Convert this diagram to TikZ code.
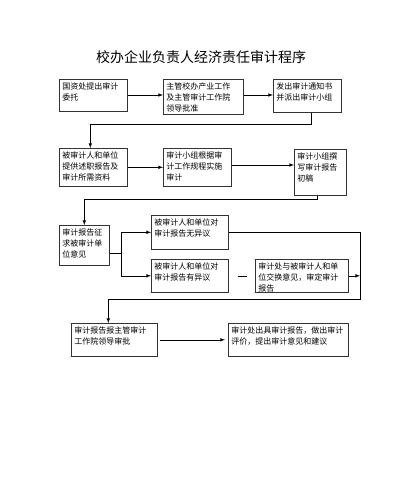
\documentclass[tikz,border=0pt]{standalone}
\usepackage{fontspec}
\newfontfamily\cnfont{Noto Sans CJK SC}
\begin{document}
\begin{tikzpicture}[
    x=1pt, y=-1pt,
    box/.style={draw=black!80, line width=0.6pt, anchor=north west, align=left,
                inner sep=3pt, text height=7pt,
                font=\cnfont\fontsize{8}{11}\selectfont},
    conn/.style={line width=0.6pt},
    arr/.style={conn, -latex}
]
\useasboundingbox (0,0) rectangle (402,500);

\node[font=\cnfont\fontsize{14}{16}\selectfont] (title) at (201,57) {校办企业负责人经济责任审计程序};

% row 1
\node[box, text width=62pt, text depth=19pt] (r1a) at (59,79)  {国资处提出审计\\委托};
\node[box, text width=74pt, text depth=22pt] (r1b) at (163,79) {主管校办产业工作\\及主管审计工作院\\领导批准};
\node[box, text width=62pt, text depth=20pt] (r1c) at (273,79) {发出审计通知书\\并派出审计小组};

% row 2
\node[box, text width=62pt, text depth=25pt] (r2a) at (59,148)  {被审计人和单位\\提供述职报告及\\审计所需资料};
\node[box, text width=62pt, text depth=25pt] (r2b) at (163,148) {审计小组根据审\\计工作规程实施\\审计};
\node[box, text width=46pt, text depth=33pt] (r2c) at (294,149) {审计小组撰\\写审计报告\\初稿};

% row 3
\node[box, text width=44pt, text depth=27pt] (r3a) at (59,225)  {审计报告征\\求被审计单\\位意见};
\node[box, text width=71pt, text depth=21pt] (r3b) at (151,215) {被审计人和单位对\\审计报告无异议};
\node[box, text width=71pt, text depth=20pt] (r3c) at (151,259) {被审计人和单位对\\审计报告有异议};
\node[box, text width=87pt, text depth=20pt] (r3d) at (255,259) {审计处与被审计人和单\\位交换意见，审定审计\\报告};

% row 4
\node[box, text width=80pt,  text depth=20pt] (r4a) at (71,323)  {审计报告报主管审计\\工作院领导审批};
\node[box, text width=114pt, text depth=20pt] (r4b) at (228,323) {审计处出具审计报告，做出审计\\评价，提出审计意见和建议};

\coordinate (fork)  at (121,253);
\coordinate (merge) at (360,299);

\draw[arr] (r1a.east |- 0,95) -- (r1b.west |- 0,95);
\draw[arr] (r1b.east |- 0,95) -- (r1c.west |- 0,95);
\draw[arr] ([xshift=4pt]r1c.south) -- ++(0,12) -| ([xshift=-3pt]r2a.north);

\draw[arr] (r2a) -- (r2b);
\draw[arr] (r2b.east |- 0,165) -- (r2c.west |- 0,165);
\draw[arr] ([xshift=-3pt]r2c.south) -- ++(0,4) -| (r3a.north);

\draw[conn] (r3a.east |- fork) -- (fork);
\draw[arr] (fork) |- (r3b.west);
\draw[arr] (fork) |- (r3c.west);
\draw[conn, shorten <=9pt, shorten >=8pt] (r3c) -- (r3d);
\draw[arr] (r3d.east) -- (r3d.east -| merge);
\draw[arr] (r3b.east) -| (merge) -| ([xshift=-6pt]r4a.north);

\draw[arr, shorten <=2pt, shorten >=3pt] (r4a) -- (r4b);
\end{tikzpicture}
\end{document}
